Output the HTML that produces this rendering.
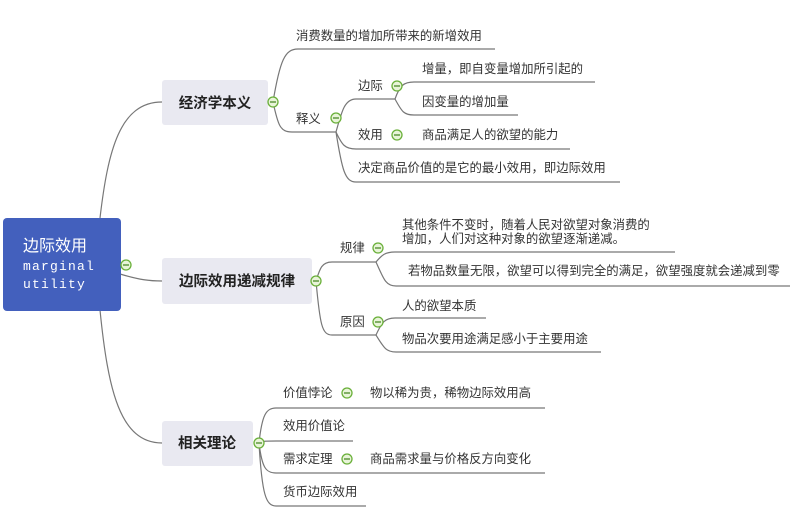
<!DOCTYPE html>
<html><head><meta charset="utf-8"><style>
html,body{margin:0;padding:0;background:#fff;}
svg text{font-family:"Liberation Sans","Noto Sans CJK SC",sans-serif;font-size:12.4px;fill:#333;}
.b{font-weight:bold;font-size:14.5px;fill:#222;}
</style></head><body>
<svg width="800" height="526" viewBox="0 0 800 526" xmlns="http://www.w3.org/2000/svg">
<defs>
<g id="ic"><circle r="5" fill="#e8f4d8" stroke="#6ab03a" stroke-width="1.3"/><line x1="-3" y1="0" x2="3" y2="0" stroke="#4a8a2a" stroke-width="1.3"/></g>
</defs>
<g fill="none" stroke="#777" stroke-width="1.2">
<path d="M100 218 C108 150 120 102 162 102"/>
<path d="M120 274 C140 280 150 281 162 281"/>
<path d="M100 310 C108 390 120 443 162 443"/>
<path d="M273 102 C280 60 285 49 298 49 L495 49"/>
<path d="M273 102 C278 125 280 132 292 132 L336 132"/>
<path d="M336 132 C342 110 345 99 356 99 L395 99"/>
<path d="M395 99 C400 85 404 82 414 82 L595 82"/>
<path d="M395 99 C402 112 404 115 414 115 L518 115"/>
<path d="M336 132 C342 145 345 149 356 149 L570 149"/>
<path d="M336 132 C342 170 345 182 356 182 L620 182"/>
<path d="M316 281 C320 268 322 262 332 262 L376 262"/>
<path d="M316 281 C320 325 322 335 332 335 L376 335"/>
<path d="M376 262 C382 255 385 252 395 252 L675 252"/>
<path d="M376 262 C384 280 386 286 396 286 L790 286"/>
<path d="M376 335 C382 322 385 318 395 318 L486 318"/>
<path d="M376 335 C384 348 386 352 396 352 L601 352"/>
<path d="M259 443 C262 415 266 408 276 408 L545 408"/>
<path d="M259 443 C262 441 266 441 276 441 L353 441"/>
<path d="M259 443 C262 468 266 473 276 473 L545 473"/>
<path d="M259 443 C262 495 266 506 276 506 L366 506"/>
</g>
<rect x="3" y="218" width="118" height="93" rx="4" fill="#4360bd"/>
<text x="23" y="251" style="font-size:16px;fill:#fff">边际效用</text>
<text x="23" y="270" style="font-family:'Liberation Mono',monospace;font-size:13px;fill:#fff;letter-spacing:1.2px">marginal</text>
<text x="23" y="288" style="font-family:'Liberation Mono',monospace;font-size:13px;fill:#fff;letter-spacing:1.2px">utility</text>
<use href="#ic" x="126" y="265"/>
<rect x="162" y="80" width="106" height="45" rx="3" fill="#e9e9f1"/>
<text class="b" x="215" y="108" text-anchor="middle">经济学本义</text>
<use href="#ic" x="273" y="102"/>
<rect x="162" y="258" width="150" height="46" rx="3" fill="#e9e9f1"/>
<text class="b" x="237" y="286" text-anchor="middle">边际效用递减规律</text>
<use href="#ic" x="316" y="281"/>
<rect x="162" y="421" width="91" height="45" rx="3" fill="#e9e9f1"/>
<text class="b" x="207" y="448" text-anchor="middle">相关理论</text>
<use href="#ic" x="259" y="443"/>
<text x="296" y="40">消费数量的增加所带来的新增效用</text>
<text x="296" y="123">释义</text><use href="#ic" x="336" y="118"/>
<text x="358" y="90">边际</text><use href="#ic" x="397" y="86"/>
<text x="422" y="73">增量，即自变量增加所引起的</text>
<text x="422" y="106">因变量的增加量</text>
<text x="358" y="139">效用</text><use href="#ic" x="397" y="135"/>
<text x="422" y="139">商品满足人的欲望的能力</text>
<text x="358" y="172">决定商品价值的是它的最小效用，即边际效用</text>
<text x="340" y="252">规律</text><use href="#ic" x="378" y="248"/>
<text x="402" y="229">其他条件不变时，随着人民对欲望对象消费的</text>
<text x="402" y="243">增加，人们对这种对象的欲望逐渐递减。</text>
<text x="408" y="275">若物品数量无限，欲望可以得到完全的满足，欲望强度就会递减到零</text>
<text x="340" y="326">原因</text><use href="#ic" x="378" y="322"/>
<text x="402" y="310">人的欲望本质</text>
<text x="402" y="343">物品次要用途满足感小于主要用途</text>
<text x="283" y="397">价值悖论</text><use href="#ic" x="347" y="393"/>
<text x="370" y="397">物以稀为贵，稀物边际效用高</text>
<text x="283" y="430">效用价值论</text>
<text x="283" y="463">需求定理</text><use href="#ic" x="347" y="459"/>
<text x="370" y="463">商品需求量与价格反方向变化</text>
<text x="283" y="496">货币边际效用</text>
</svg>
</body></html>
